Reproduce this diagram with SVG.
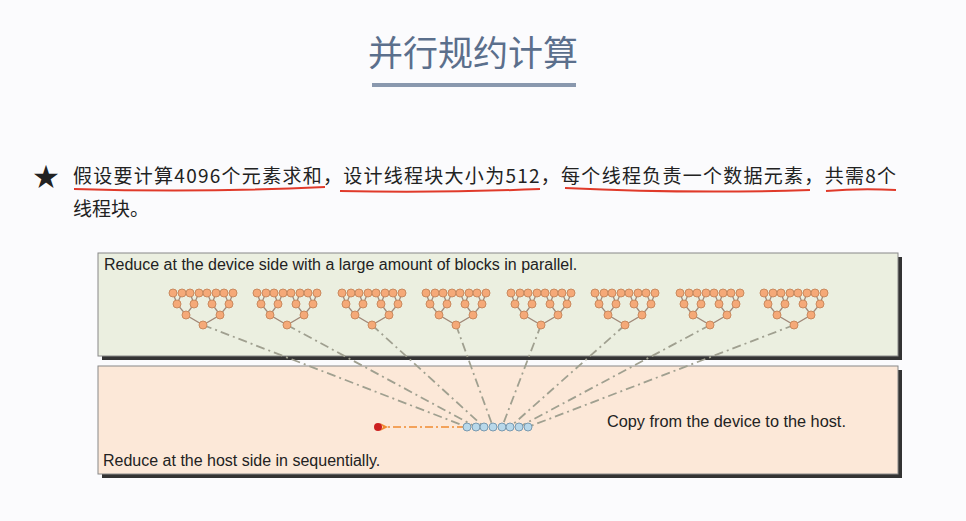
<svg xmlns="http://www.w3.org/2000/svg" width="966" height="521" viewBox="0 0 966 521">
<defs>
<style>
.t{font-family:"Noto Sans CJK SC","Liberation Sans",sans-serif;fill:#222}
.e{font-family:"Liberation Sans",sans-serif;fill:#222}
.leaf{fill:#f5a978;stroke:#c98a5f;stroke-width:1}
.tl{stroke:#a08878;stroke-width:1.3;fill:none}
.dd{stroke:#a0a090;stroke-width:1.8;stroke-dasharray:9 4 2 4;fill:none}
.blue{fill:#b8d8ea;stroke:#7a9ab0;stroke-width:1}
.ul{stroke:#e03a2a;stroke-width:2;fill:none}
</style>
<marker id="ah" markerWidth="8" markerHeight="8" refX="2" refY="4" orient="auto" markerUnits="userSpaceOnUse"><path d="M8,0 L0,4 L8,8 L5,4Z" fill="#f08a30"/></marker>
<g id="tree">
<path class="tl" d="M-30,293 L-26,304 L-17,315 L0,325 L17,315 L26,304 L30,293 M-21,293 L-26,304 M-13,293 L-9,304 L-17,315 M-4,293 L-9,304 M4,293 L9,304 L17,315 M13,293 L9,304 M21,293 L26,304"/>
<g class="leaf">
<circle cx="-30" cy="293" r="4"/><circle cx="-21" cy="293" r="4"/><circle cx="-13" cy="293" r="4"/><circle cx="-4" cy="293" r="4"/><circle cx="4" cy="293" r="4"/><circle cx="13" cy="293" r="4"/><circle cx="21" cy="293" r="4"/><circle cx="30" cy="293" r="4"/>
<circle cx="-26" cy="304" r="4"/><circle cx="-9" cy="304" r="4"/><circle cx="9" cy="304" r="4"/><circle cx="26" cy="304" r="4"/>
<circle cx="-17" cy="315" r="4"/><circle cx="17" cy="315" r="4"/><circle cx="0" cy="325" r="4"/>
</g>
</g>
</defs>
<rect width="966" height="521" fill="#fbfbfd"/>
<text x="473" y="66" text-anchor="middle" class="t" style="fill:#5b6f8c;font-size:35px">并行规约计算</text>
<rect x="372" y="83" width="204" height="4" fill="#6d7f9a" opacity="0.8"/>
<text x="33" y="186" class="t" style="font-size:26px">★</text>
<text x="73" y="183" class="t" style="font-size:19px" textLength="823" lengthAdjust="spacing">假设要计算4096个元素求和，设计线程块大小为512，每个线程负责一个数据元素，共需8个</text>
<text x="73" y="216" class="t" style="font-size:19px">线程块。</text>
<g class="ul">
<path d="M74,189 Q200,193 325,187"/><path d="M340,191 Q440,193 540,189"/><path d="M565,188 Q690,194 810,190"/><path d="M826,191 Q860,188 896,190"/>
</g>
<g id="devicePanel">
<rect x="102" y="257" width="800" height="103" fill="#333"/>
<rect x="98" y="253" width="800" height="103" fill="#ebefe0" stroke="#888" stroke-width="1"/>
<text x="104" y="270" class="e" style="font-size:16px">Reduce at the device side with a large amount of blocks in parallel.</text>
</g>
<g id="hostPanel">
<rect x="102" y="370" width="800" height="108" fill="#333"/>
<rect x="98" y="366" width="800" height="108" fill="#fce8d8" stroke="#888" stroke-width="1"/>
<text x="103" y="466" class="e" style="font-size:16px">Reduce at the host side in sequentially.</text>
<text x="607" y="427" class="e" style="font-size:16.3px">Copy from the device to the host.</text>
</g>
<g id="connectors">
<path class="dd" d="M203,325 L467,427 M287,325 L476,427 M372,325 L484,427 M456,325 L493,427 M541,325 L502,427 M625,325 L510,427 M710,325 L519,427 M794,325 L528,427"/>
<path d="M465,427 L386,427" stroke="#f08a30" stroke-width="1.5" stroke-dasharray="8 3 2 3" marker-end="url(#ah)"/>
</g>
<g id="trees">
<use href="#tree" x="203"/><use href="#tree" x="287"/><use href="#tree" x="372"/><use href="#tree" x="456"/><use href="#tree" x="541"/><use href="#tree" x="625"/><use href="#tree" x="710"/><use href="#tree" x="794"/>
</g>
<g id="hostNodes">
<g class="blue"><circle cx="467" cy="427" r="4"/><circle cx="476" cy="427" r="4"/><circle cx="484" cy="427" r="4"/><circle cx="493" cy="427" r="4"/><circle cx="502" cy="427" r="4"/><circle cx="510" cy="427" r="4"/><circle cx="519" cy="427" r="4"/><circle cx="528" cy="427" r="4"/></g>
<circle cx="378" cy="427" r="4" fill="#cc2020"/>
</g>
</svg>
